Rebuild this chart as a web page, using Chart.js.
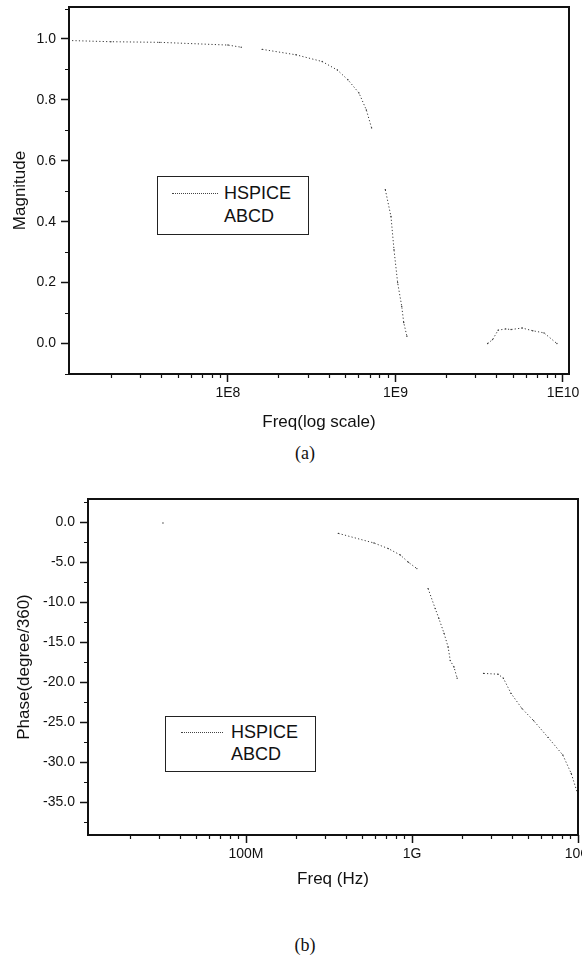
<!DOCTYPE html>
<html>
<head>
<meta charset="utf-8">
<script src="https://cdn.jsdelivr.net/npm/chart.js@4.4.0/dist/chart.umd.min.js"></script>
<style>
  body {
    margin: 0;
    width: 582px;
    height: 962px;
    overflow: hidden;
    background: #fff;
    position: relative;
    font-family: "Liberation Sans", Arial, sans-serif;
    color: #111;
  }
  .plot { position: absolute; left: 0; }
  #magWrap { top: 0; width: 582px; height: 433px; }
  #phaseWrap { top: 480px; width: 620px; height: 410px; }
  .legend {
    position: absolute;
    border: 1px solid #222;
    background: #fff;
    font-size: 18px;
  }
  .legend .row { position: absolute; left: 0; right: 0; height: 22px; line-height: 22px; }
  .legend .sample { position: absolute; top: 11px; border-top: 1px dotted #444; }
  .legend .label { position: absolute; }
  .caption {
    position: absolute;
    left: 0;
    width: 610px;
    text-align: center;
    font-family: "Liberation Serif", "Times New Roman", serif;
    font-size: 18px;
  }
</style>
</head>
<body>
<div class="plot" id="magWrap"><canvas id="magChart"></canvas></div>
<div class="plot" id="phaseWrap"><canvas id="phaseChart"></canvas></div>

<div class="legend" style="left:157px; top:176px; width:150px; height:57px;">
  <div class="row" style="top:5px;"><span class="sample" style="left:14px; width:46px;"></span><span class="label" style="left:66px;">HSPICE</span></div>
  <div class="row" style="top:28px;"><span class="label" style="left:66px;">ABCD</span></div>
</div>
<div class="legend" style="left:165px; top:716px; width:149px; height:54px;">
  <div class="row" style="top:4px;"><span class="sample" style="left:15px; width:42px;"></span><span class="label" style="left:65px;">HSPICE</span></div>
  <div class="row" style="top:26px;"><span class="label" style="left:65px;">ABCD</span></div>
</div>

<div class="caption" style="top:443px;">(a)</div>
<div class="caption" style="top:935px;">(b)</div>

<script>
// (a) magnitude vs frequency, null = gap in the printed curve
const magFreq = [1.12e7, 2e7, 3.9e7, 1e8, 1.2e8, 1.4e8, 1.6e8, 2.55e8, 3.65e8, 4.5e8, 5.2e8, 6.05e8, 6.7e8, 7.2e8, 8e8,
  8.7e8, 9.4e8, 9.8e8, 1.03e9, 1.09e9, 1.12e9, 1.17e9, 2e9, 3.55e9, 3.8e9, 4.1e9, 4.55e9, 4.9e9, 5.7e9, 6.6e9, 7.7e9, 9.2e9];
const hspiceMag = [0.995, 0.991, 0.989, 0.980, 0.973, null, 0.966, 0.948, 0.926, 0.898, 0.866, 0.823, 0.767, 0.708, null,
  0.505, 0.417, 0.308, 0.200, 0.122, 0.069, 0.024, null, 0.0, 0.013, 0.044, 0.048, 0.046, 0.051, 0.042, 0.035, 0.0];
const magTicks = [0, 0.2, 0.4, 0.6, 0.8, 1.0];
const magFreqTicks = [1e8, 1e9, 1e10];
const magFreqLabels = ["1E8", "1E9", "1E10"];

// (b) phase vs frequency
const phaseFreq = [3.16e7, 1e8, 3.6e8, 5.9e8, 7.2e8, 8.5e8, 9.5e8, 1.07e9, 1.15e9, 1.25e9, 1.38e9, 1.45e9, 1.56e9, 1.65e9,
  1.7e9, 1.79e9, 1.87e9, 2.3e9, 2.7e9, 3.3e9, 3.55e9, 3.95e9, 4.6e9, 5.4e9, 6.6e9, 8.1e9, 9.1e9, 1e10];
const hspicePhase = [-0.1, null, -1.4, -2.6, -3.3, -4.1, -5.0, -5.8, null, -8.3, -10.8, -12.0, -13.9, -15.6,
  -17.3, -18.1, -19.5, null, -18.9, -19.0, -19.5, -21.4, -23.3, -24.8, -26.9, -29.1, -31.4, -34.1];
const phaseTicks = [0, -5, -10, -15, -20, -25, -30, -35];
const phaseFreqTicks = [1e8, 1e9, 1e10];
const phaseFreqLabels = ["100M", "1G", "10G"];

const ink = "#111";
const tickFont = { family: "'Liberation Sans', Arial, sans-serif", size: 14 };
const titleFont = { family: "'Liberation Sans', Arial, sans-serif", size: 17 };

// frame around the plot + short minor ticks (Origin style)
const frameTicks = {
  id: "frameTicks",
  afterDraw(chart, args, opts) {
    const { ctx, chartArea: a, scales } = chart;
    ctx.save();
    ctx.strokeStyle = ink;
    ctx.lineWidth = 2;
    ctx.strokeRect(a.left, a.top, a.right - a.left, a.bottom - a.top);

    ctx.lineWidth = 1.2;
    ctx.beginPath();
    const x = scales.x;
    for (let e = Math.floor(Math.log10(x.min)); e <= Math.ceil(Math.log10(x.max)); e++) {
      for (let k = 2; k <= 9; k++) {
        const v = k * Math.pow(10, e);
        if (v < x.min || v > x.max) continue;
        const px = Math.round(x.getPixelForValue(v)) + 0.5;
        ctx.moveTo(px, a.bottom);
        ctx.lineTo(px, a.bottom + 4);
      }
    }
    const y = scales.y;
    const step = opts.yMinor;
    for (let v = opts.yMinorStart; v <= y.max + 1e-9; v += step) {
      if (v < y.min - 1e-9) continue;
      const py = Math.round(y.getPixelForValue(v)) + 0.5;
      ctx.moveTo(a.left, py);
      ctx.lineTo(a.left - 4, py);
    }
    ctx.stroke();
    ctx.restore();
  },
};

function makeChart(id, opt) {
  const points = opt.freq.map((f, i) => ({ x: f, y: opt.values[i] }));
  return new Chart(document.getElementById(id), {
    type: "line",
    data: {
      datasets: [
        {
          label: "HSPICE",
          data: points,
          borderColor: "#3a3a3a",
          borderWidth: 1,
          borderDash: [1.2, 2.2],
          pointRadius: 0.7,
          pointBackgroundColor: "#3a3a3a",
          pointBorderWidth: 0,
          spanGaps: false,
          tension: 0,
        },
      ],
    },
    options: {
      responsive: true,
      maintainAspectRatio: false,
      animation: false,
      layout: { padding: opt.padding },
      plugins: {
        legend: { display: false },
        tooltip: { enabled: false },
        frameTicks: { yMinor: opt.yMinor, yMinorStart: opt.yMinorStart },
      },
      scales: {
        x: {
          type: "logarithmic",
          min: opt.xMin,
          max: opt.xMax,
          afterBuildTicks: (s) => { s.ticks = opt.xTicks.map((v) => ({ value: v })); },
          afterFit: (s) => { s.height = opt.xHeight; s.paddingLeft = 0; s.paddingRight = 0; },
          ticks: {
            autoSkip: false,
            maxRotation: 0,
            padding: 3,
            color: ink,
            font: tickFont,
            callback: (v) => opt.xLabels[opt.xTicks.indexOf(v)],
          },
          grid: { display: true, drawOnChartArea: false, tickLength: 8, tickColor: ink, tickWidth: 1.5 },
          border: { display: false },
          title: { display: true, text: opt.xTitle, color: ink, font: titleFont, padding: 0 },
        },
        y: {
          min: opt.yMin,
          max: opt.yMax,
          afterBuildTicks: (s) => { s.ticks = opt.yTicks.map((v) => ({ value: v })); },
          afterFit: (s) => { s.width = opt.yWidth; s.paddingTop = 0; s.paddingBottom = 0; },
          ticks: {
            padding: 5,
            color: ink,
            font: tickFont,
            callback: (v) => v.toFixed(1),
          },
          grid: { display: true, drawOnChartArea: false, tickLength: 8, tickColor: ink, tickWidth: 1.5 },
          border: { display: false },
          title: { display: true, text: opt.yTitle, color: ink, font: titleFont, padding: 0 },
        },
      },
    },
    plugins: [frameTicks],
  });
}

makeChart("magChart", {
  freq: magFreq,
  values: hspiceMag,
  xMin: 1.125e7,
  xMax: 1.086e10,
  xTicks: magFreqTicks,
  xLabels: magFreqLabels,
  yMin: -0.1,
  yMax: 1.105,
  yTicks: magTicks,
  yMinor: 0.2,
  yMinorStart: -0.1,
  xTitle: "Freq(log scale)",
  yTitle: "Magnitude",
  padding: { top: 7, right: 13, left: 10, bottom: 0 },
  yWidth: 59,
  xHeight: 59,
});

makeChart("phaseChart", {
  freq: phaseFreq,
  values: hspicePhase,
  xMin: 1.117e7,
  xMax: 1e10,
  xTicks: phaseFreqTicks,
  xLabels: phaseFreqLabels,
  yMin: -39.1,
  yMax: 2.9,
  yTicks: phaseTicks,
  yMinor: 5,
  yMinorStart: -37.5,
  xTitle: "Freq (Hz)",
  yTitle: "Phase(degree/360)",
  padding: { top: 19, right: 42, left: 14, bottom: 0 },
  yWidth: 74,
  xHeight: 55,
});
</script>
</body>
</html>
